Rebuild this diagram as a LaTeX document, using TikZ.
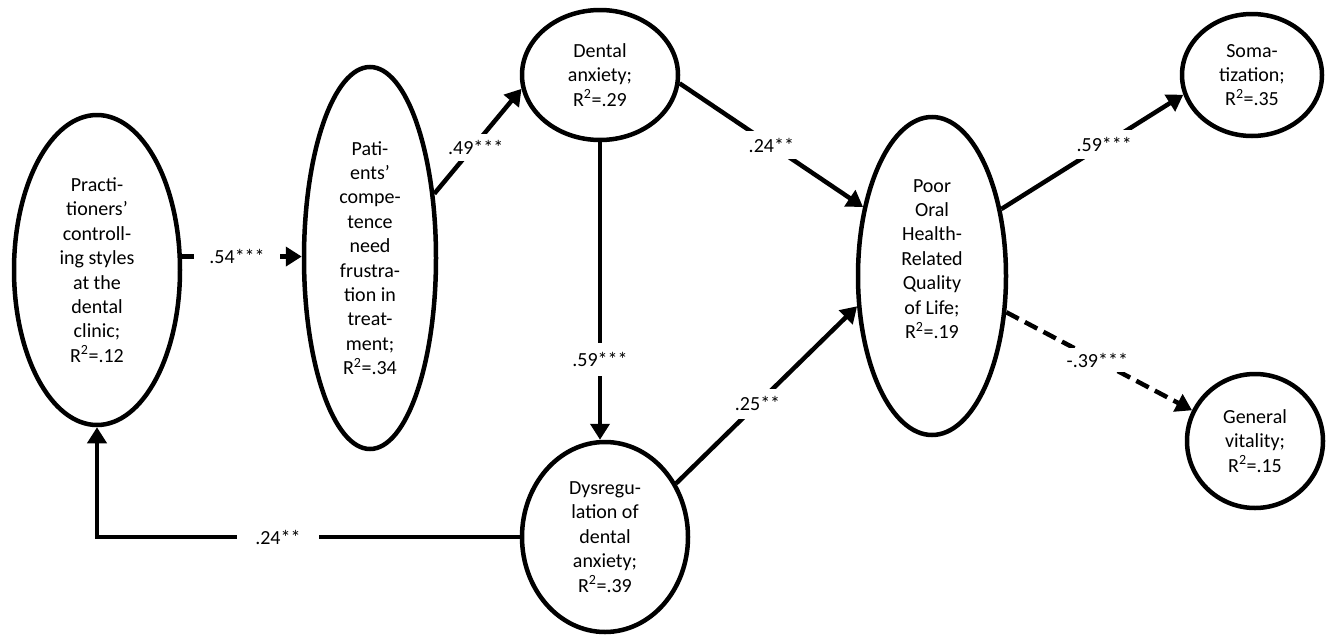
\documentclass[tikz,border=0pt]{standalone}
\usepackage{fontspec}
\setmainfont{Carlito}
\usetikzlibrary{shapes.geometric,arrows.meta}
\begin{document}
\begin{tikzpicture}[x=1pt,y=-1pt,
  lat/.style={ellipse, draw, line width=4.5pt, inner sep=0pt, align=center,
    font=\fontsize{20}{24.4}\selectfont},
  conn/.style={line width=4.5pt, -{Triangle[length=16pt,width=19pt]}},
  plainconn/.style={line width=4.5pt},
  dashconn/.style={dash pattern=on 14pt off 7pt},
  lbl/.style={fill=white, inner sep=6pt, font=\fontsize{20}{24}\selectfont}]
\fill[white] (0,0) rectangle (1326,635);
\useasboundingbox (0,0) rectangle (1326,635);

\node[lat, minimum width=166pt, minimum height=310pt] (prac) at (97,270)
  {Practi-\\tioners’\\controll-\\ing styles\\at the\\dental\\clinic;\\R\textsuperscript{2}=.12};
\node[lat, minimum width=132pt, minimum height=382pt] (pat) at (370,258)
  {Pati-\\ents’\\compe-\\tence\\need\\frustra-\\tion in\\treat-\\ment;\\R\textsuperscript{2}=.34};
\node[lat, minimum width=156pt, minimum height=130pt] (dent) at (600,75)
  {Dental\\anxiety;\\R\textsuperscript{2}=.29};
\node[lat, minimum width=166pt, minimum height=190pt] (dys) at (605,537)
  {Dysregu-\\lation of\\dental\\anxiety;\\R\textsuperscript{2}=.39};
\node[lat, minimum width=148pt, minimum height=318pt] (poor) at (932,276) {};
\node[align=center, font=\fontsize{20}{24.4}\selectfont, inner sep=0pt] (poortxt) at (932,259)
  {Poor\\Oral\\Health-\\Related\\Quality\\of Life;\\R\textsuperscript{2}=.19};
\node[lat, minimum width=140pt, minimum height=122pt] (soma) at (1252,75)
  {Soma-\\tization;\\R\textsuperscript{2}=.35};
\node[lat, minimum width=136pt, minimum height=134pt] (gen) at (1255,441)
  {General\\vitality;\\R\textsuperscript{2}=.15};

\draw[conn] (prac.9) -- node[lbl, pos=0.46, inner xsep=15pt] {.54***} (prac.9 -| pat.west);
\draw[conn] (pat.45) -- node[lbl, pos=0.44, xshift=3pt] {.49***} (dent.190);
\draw[conn] (dent.354) -- node[lbl, pos=0.5, inner sep=7pt] {.24**} (poor.135);
\draw[conn] (dys.37) -- node[lbl, pos=0.45, inner sep=8pt] {.25**} (poor.202);
\draw[conn] (dent.south) -- node[lbl, pos=0.73, inner ysep=9pt] {.59***} (dent.south |- dys.north);
\draw[conn] (poor.44) -- node[lbl, pos=0.565, inner sep=7pt] {.59***} (soma.196);
\draw[conn, dashconn] (poor.334) -- node[lbl, pos=0.49, inner sep=5pt] {-.39***} (gen.154);
\draw[conn] (dys.west) -- node[lbl, pos=0.572, inner xsep=18pt] {.24**} (dys.west -| prac.south) -- (prac.south);
\end{tikzpicture}
\end{document}
